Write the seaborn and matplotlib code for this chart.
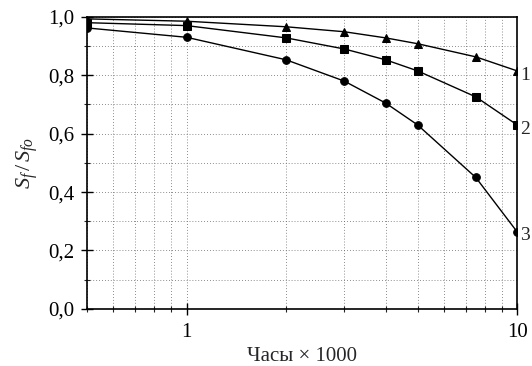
import numpy as np
import pandas as pd
import matplotlib
matplotlib.use("Agg")
import matplotlib.pyplot as plt
import matplotlib.ticker as mticker
import seaborn as sns

# hours x 1000
hours = [0.5, 1, 2, 3, 4, 5, 7.5, 10]
curve_1 = [0.993, 0.985, 0.966, 0.949, 0.928, 0.908, 0.863, 0.815]
curve_2 = [0.980, 0.970, 0.928, 0.890, 0.853, 0.815, 0.726, 0.630]
curve_3 = [0.962, 0.930, 0.853, 0.780, 0.705, 0.630, 0.450, 0.264]
curve_names = ["1", "2", "3"]
curve_markers = ["^", "s", "o"]

y_ticks = [0.0, 0.2, 0.4, 0.6, 0.8, 1.0]
y_tick_labels = ["0,0", "0,2", "0,4", "0,6", "0,8", "1,0"]
x_ticks = [1, 10]
x_tick_labels = ["1", "10"]

sns.set_style("ticks")
plt.rcParams["font.family"] = ["Liberation Serif", "DejaVu Serif"]
plt.rcParams["mathtext.fontset"] = "custom"
plt.rcParams["mathtext.rm"] = "Liberation Serif"
plt.rcParams["mathtext.it"] = "Liberation Serif:italic"

fig = plt.figure(figsize=(5.32, 3.66), dpi=100)
ax = fig.add_axes([0.1635, 0.156, 0.8085, 0.798])

ax.set_xscale("log")
ax.set_xlim(0.5, 10)
ax.set_ylim(0, 1.0)

# dotted background grid
ax.grid(which="both", linestyle=(0, (1, 2.5)), linewidth=0.6, color="0.4")

for name, vals, mk in zip(curve_names, [curve_1, curve_2, curve_3], curve_markers):
    df = pd.DataFrame({"hours": hours, "ratio": vals})
    sns.lineplot(data=df, x="hours", y="ratio", ax=ax, color="black",
                 linewidth=1.0, marker=mk, markersize=5.5,
                 markeredgecolor="black", markerfacecolor="black")
    ax.annotate(name, xy=(hours[-1], vals[-1]), xytext=(2, -3),
                textcoords="offset points", ha="left", va="center",
                fontsize=14, annotation_clip=False)

ax.set_yticks(y_ticks)
ax.set_yticklabels(y_tick_labels)
ax.yaxis.set_minor_locator(mticker.MultipleLocator(0.1))
ax.set_xticks(x_ticks)
ax.set_xticklabels(x_tick_labels)
ax.xaxis.set_minor_locator(mticker.LogLocator(base=10, subs=np.arange(2, 10)))
ax.xaxis.set_minor_formatter(mticker.NullFormatter())

ax.tick_params(which="major", direction="inout", length=8, width=1.0,
               labelsize=15, colors="black")
ax.tick_params(which="minor", direction="inout", length=5, width=0.8)
ax.tick_params(axis="x", which="major", pad=6)
ax.tick_params(axis="y", which="major", pad=5)

for sp in ax.spines.values():
    sp.set_visible(True)
    sp.set_linewidth(1.2)
    sp.set_color("black")

ax.set_xlabel("Часы × 1000", fontsize=15, labelpad=4)
ax.set_ylabel(r"$S_f\,/\,S_{fo}$", fontsize=16, labelpad=6)

fig.savefig("out.png", dpi=100)
